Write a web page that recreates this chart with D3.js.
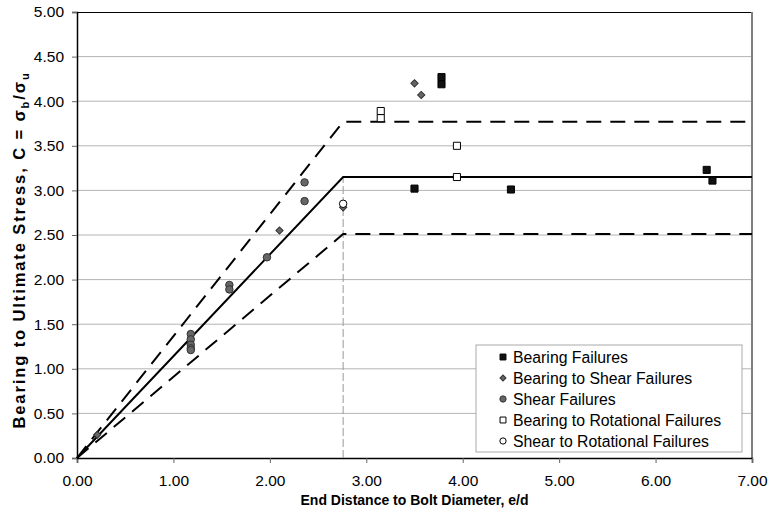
<!DOCTYPE html>
<html>
<head>
<meta charset="utf-8">
<script src="https://cdn.jsdelivr.net/npm/d3@7"></script>
<style>
  body { margin: 0; background: #fff; }
  svg { font-family: "Liberation Sans", Arial, sans-serif; }
  .tick text { fill: #000; }
  .axis-label { font-weight: bold; }
  .legend text { font-size: 15.8px; }
</style>
</head>
<body>
<svg id="chart"></svg>
<script>
// series data: [e/d, C]
const bearingFailures = [[3.78, 4.27], [3.78, 4.19], [3.50, 3.02], [4.50, 3.01], [6.53, 3.23], [6.59, 3.11]];
const bearingToShear = [[3.50, 4.20], [3.57, 4.07], [2.10, 2.55], [2.76, 2.81], [0.21, 0.26]];
const shearFailures = [[1.18, 1.39], [1.18, 1.33], [1.18, 1.27], [1.18, 1.23], [1.18, 1.21],
  [1.58, 1.94], [1.58, 1.89], [1.97, 2.25], [2.36, 3.09], [2.36, 2.88]];
const bearingToRotational = [[3.15, 3.89], [3.15, 3.81], [3.94, 3.50], [3.94, 3.15]];
const shearToRotational = [[2.76, 2.85]];

// design curves
const meanCurve = [[0, 0], [2.76, 3.15], [7, 3.15]];
const upperCurve = [[0, 0], [2.76, 3.77], [7, 3.77]];
const lowerCurve = [[0, 0], [2.76, 2.51], [7, 2.51]];
const kneeLine = [[2.76, 0], [2.76, 3.15]];

const xTicks = [0, 1, 2, 3, 4, 5, 6, 7];
const yTicks = [0, 0.5, 1, 1.5, 2, 2.5, 3, 3.5, 4, 4.5, 5];

const legendNames = ["Bearing Failures", "Bearing to Shear Failures", "Shear Failures",
  "Bearing to Rotational Failures", "Shear to Rotational Failures"];

const chartSize = { width: 769, height: 515 };
const margin = { left: 77, right: 17, top: 12, bottom: 57 };
const width = chartSize.width - margin.left - margin.right;
const height = chartSize.height - margin.top - margin.bottom;

const svg = d3.select("#chart").attr("width", chartSize.width).attr("height", chartSize.height);
const g = svg.append("g").attr("transform", `translate(${margin.left},${margin.top})`);

const x = d3.scaleLinear().domain([0, 7]).range([0, width]);
const y = d3.scaleLinear().domain([0, 5]).range([height, 0]);

// grid
g.append("g")
  .selectAll("line")
  .data(yTicks.filter(d => d > 0 && d < 5))
  .enter()
  .append("line")
  .attr("x1", 0).attr("x2", width)
  .attr("y1", d => y(d)).attr("y2", d => y(d))
  .attr("stroke", "#b4b4b4").attr("stroke-width", 1);

// frame
g.append("line").attr("x1", 0).attr("x2", width).attr("y1", 0.5).attr("y2", 0.5).attr("stroke", "#000");
g.append("line").attr("x1", width).attr("x2", width).attr("y1", 0).attr("y2", height)
  .attr("stroke", "#808080").attr("stroke-width", 2);

// axes
const fmt = d3.format(".2f");
const xAxis = g.append("g").attr("transform", `translate(0,${height})`)
  .call(d3.axisBottom(x).tickValues(xTicks).tickFormat(fmt).tickSize(5).tickPadding(12));
const yAxis = g.append("g")
  .call(d3.axisLeft(y).tickValues(yTicks).tickFormat(fmt).tickSize(5).tickPadding(8));
[xAxis, yAxis].forEach(a => {
  a.select(".domain").attr("stroke", "#000").attr("stroke-width", 1.5);
  a.selectAll(".tick line").attr("stroke", "#666");
  a.selectAll(".tick text").attr("font-size", 15.5);
});

// axis titles
g.append("text")
  .attr("class", "axis-label")
  .attr("font-size", 14)
  .attr("x", width / 2)
  .attr("y", height + 47)
  .attr("text-anchor", "middle")
  .text("End Distance to Bolt Diameter, e/d");

const yl = g.append("text")
  .attr("class", "axis-label")
  .attr("font-size", 16.5)
  .attr("letter-spacing", 1.9)
  .attr("transform", `translate(-52,${250 - margin.top}) rotate(-90)`)
  .attr("text-anchor", "middle");
yl.append("tspan").text("Bearing to Ultimate Stress, C = σ");
yl.append("tspan").attr("font-size", 11).attr("dy", 4).text("b");
yl.append("tspan").attr("dy", -4).text("/σ");
yl.append("tspan").attr("font-size", 11).attr("dy", 4).text("u");

// lines
const line = d3.line().x(d => x(d[0])).y(d => y(d[1]));
g.append("path").attr("d", line(kneeLine)).attr("fill", "none")
  .attr("stroke", "#999").attr("stroke-width", 1).attr("stroke-dasharray", "8,3");
g.append("path").attr("d", line(meanCurve)).attr("fill", "none")
  .attr("stroke", "#000").attr("stroke-width", 2);
[upperCurve, lowerCurve].forEach(c => {
  g.append("path").attr("d", line(c)).attr("fill", "none")
    .attr("stroke", "#000").attr("stroke-width", 2).attr("stroke-dasharray", "15,9");
});

// markers
const styles = [
  { data: bearingFailures, type: d3.symbolSquare, size: 50, rot: 0, fill: "#111", stroke: "#000" },
  { data: bearingToShear, type: d3.symbolSquare, size: 26, rot: 45, fill: "#666", stroke: "#333" },
  { data: shearFailures, type: d3.symbolCircle, size: 44, rot: 0, fill: "#666", stroke: "#333" },
  { data: bearingToRotational, type: d3.symbolSquare, size: 50, rot: 0, fill: "#fff", stroke: "#000" },
  { data: shearToRotational, type: d3.symbolCircle, size: 44, rot: 0, fill: "#fff", stroke: "#000" }
];

styles.forEach(s => {
  g.append("g")
    .selectAll("path")
    .data(s.data)
    .enter()
    .append("path")
    .attr("d", d3.symbol().type(s.type).size(s.size))
    .attr("transform", d => `translate(${x(d[0])},${y(d[1])}) rotate(${s.rot})`)
    .attr("fill", s.fill)
    .attr("stroke", s.stroke)
    .attr("stroke-width", 1);
});

// legend
const legend = svg.append("g").attr("class", "legend").attr("transform", "translate(476,345)");
legend.append("rect").attr("width", 266).attr("height", 107)
  .attr("fill", "#fff").attr("stroke", "#aaa").attr("stroke-width", 1);
const items = legend.selectAll(".item")
  .data(styles)
  .enter()
  .append("g")
  .attr("class", "item")
  .attr("transform", (d, i) => `translate(0,${12 + i * 21})`);
items.append("path")
  .attr("d", s => d3.symbol().type(s.type).size(s.size * 0.7)())
  .attr("transform", s => `translate(27,0) rotate(${s.rot})`)
  .attr("fill", s => s.fill)
  .attr("stroke", s => s.stroke);
items.append("text")
  .attr("x", 37)
  .attr("y", 5.5)
  .text((s, i) => legendNames[i]);
</script>
</body>
</html>
